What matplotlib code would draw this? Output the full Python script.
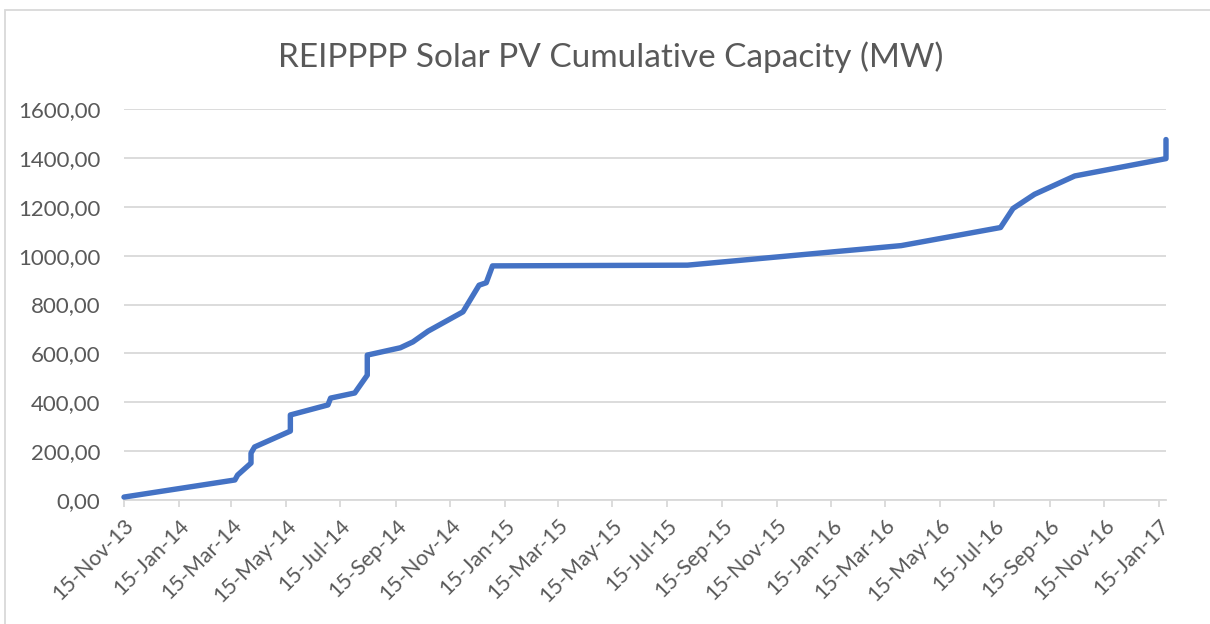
import matplotlib
matplotlib.use("Agg")
import matplotlib.pyplot as plt
import matplotlib.dates as mdates
from matplotlib.patches import Rectangle
import pandas as pd

# ---- data ----
dates = ["2013-11-15", "2014-03-19", "2014-03-22", "2014-04-06", "2014-04-06",
         "2014-04-10", "2014-05-20", "2014-05-20", "2014-07-01", "2014-07-04",
         "2014-07-31", "2014-08-14", "2014-08-14", "2014-09-20", "2014-10-04",
         "2014-10-21", "2014-11-29", "2014-12-17", "2014-12-25", "2015-01-01",
         "2015-08-07", "2016-04-02", "2016-07-22", "2016-08-05", "2016-08-29",
         "2016-10-13", "2017-01-23", "2017-01-23"]
capacity = [12, 82, 102, 151, 192,
            217, 282, 348, 389, 417,
            438, 511, 593, 623, 647,
            691, 770, 879, 889, 958,
            961, 1041, 1115, 1193, 1251,
            1326, 1397, 1475]
tick_dates = pd.date_range("2013-11-01", "2017-01-01", freq="2MS") + pd.Timedelta(days=14)
y_ticks = [0, 200, 400, 600, 800, 1000, 1200, 1400, 1600]
title = "REIPPPP Solar PV Cumulative Capacity (MW)"

# ---- style ----
plt.rcParams['font.family'] = ['Lato', 'DejaVu Sans']
grey_text = "#595959"
grid_col = "#d9d9d9"
line_col = "#4472C4"

W, H = 1210, 624
fig = plt.figure(figsize=(W / 100, H / 100), dpi=100)
fig.patch.set_facecolor("white")

# outer chart border (cropped on right/bottom)
fig.add_artist(Rectangle((5 / W, -0.05), 1.1, 1 - 10 / H + 0.05,
                         transform=fig.transFigure, fill=False,
                         edgecolor=grid_col, linewidth=1.3))

left, right, top, bottom = 124, 1166, 109, 500
ax = fig.add_axes([left / W, 1 - bottom / H, (right - left) / W, (bottom - top) / H])

x = pd.to_datetime(dates)
ax.plot(x, capacity, color=line_col, linewidth=3.9, solid_joinstyle="round",
        solid_capstyle="round", zorder=3, clip_on=False)

ax.set_xlim(pd.Timestamp("2013-11-15"), pd.Timestamp("2017-01-23"))
ax.set_ylim(0, 1600)
ax.set_yticks(y_ticks)
ax.set_yticklabels([f"{v:.2f}".replace(".", ",") for v in y_ticks])
ax.set_xticks(tick_dates)
ax.set_xticklabels([d.strftime("%d-%b-%y") for d in tick_dates],
                   rotation=45, ha="right", rotation_mode="anchor")

ax.grid(axis="y", color=grid_col, linewidth=1.3, zorder=0)
ax.set_axisbelow(True)
for s in ["top", "right", "left"]:
    ax.spines[s].set_visible(False)
ax.spines["bottom"].set_color(grid_col)
ax.spines["bottom"].set_linewidth(1.3)

ax.tick_params(axis="y", length=0, pad=17, labelsize=16, labelcolor=grey_text)
ax.tick_params(axis="x", length=5, width=1.3, color=grid_col, pad=6,
               labelsize=15.5, labelcolor=grey_text)

fig.text(0.5045, 1 - 57 / H, title, ha="center", va="center",
         fontsize=24, color=grey_text)

fig.savefig("out.png", dpi=100, facecolor="white")
